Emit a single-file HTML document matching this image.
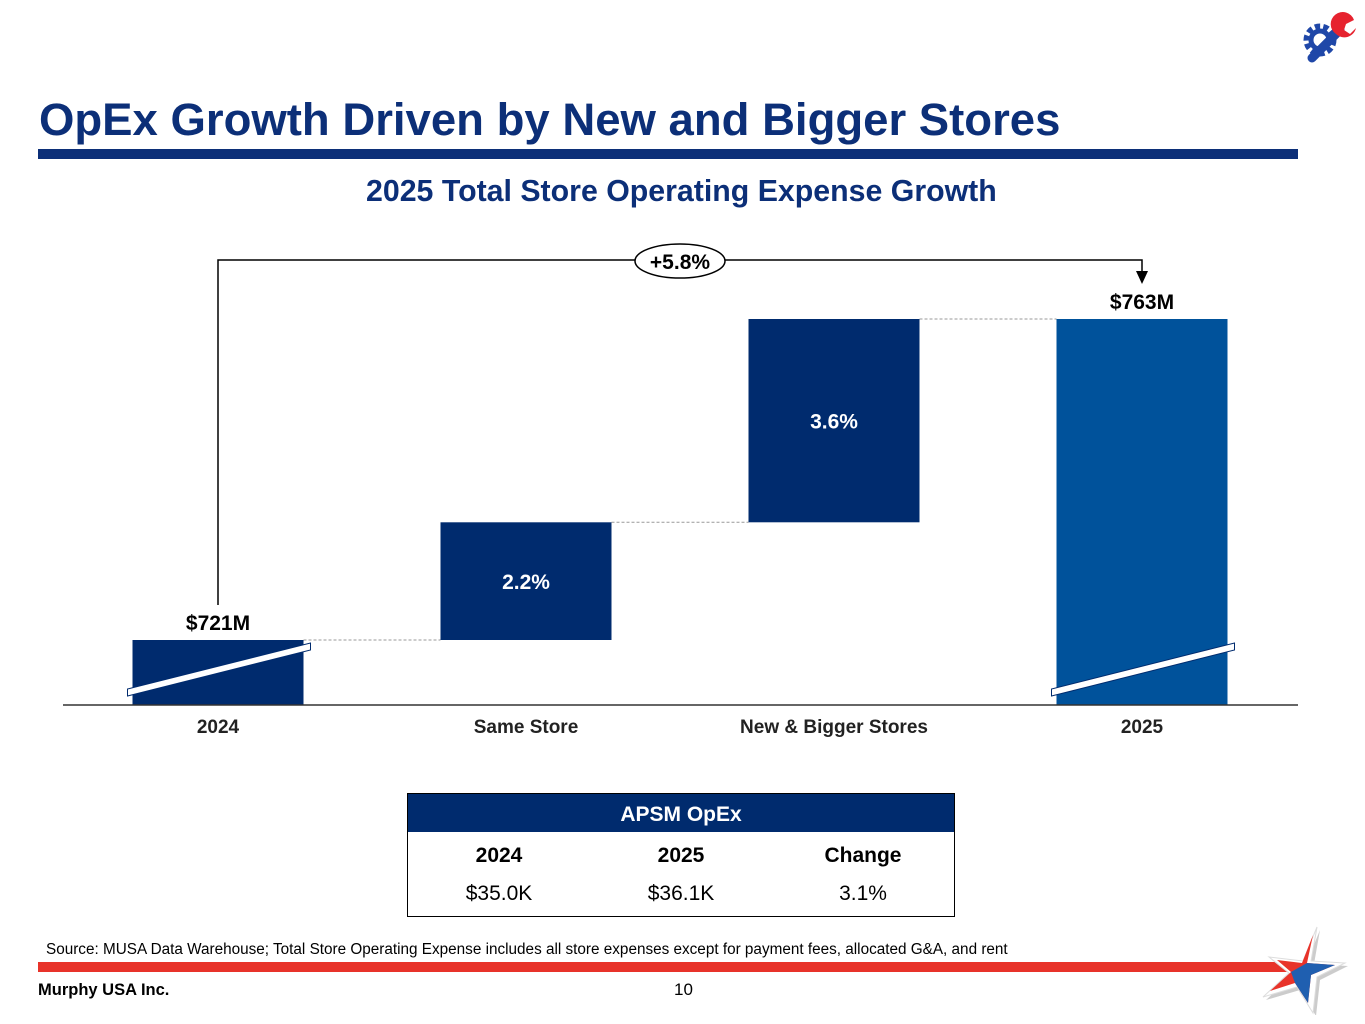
<!DOCTYPE html>
<html><head><meta charset="utf-8"><style>
body{margin:0;width:1365px;height:1024px;background:#fff;position:relative;overflow:hidden;font-family:"Liberation Sans",Arial,sans-serif}
.a{position:absolute}
</style></head><body>
<div class="a" style="left:39px;top:94px;font-size:45.5px;font-weight:bold;color:#0c2f78;white-space:nowrap">OpEx Growth Driven by New and Bigger Stores</div>
<div class="a" style="left:38px;top:149px;width:1260px;height:10px;background:#0c2f78"></div>
<div class="a" style="left:366px;top:175px;font-size:30.3px;font-weight:bold;color:#0c2f78;white-space:nowrap">2025 Total Store Operating Expense Growth</div>

<svg class="a" style="left:0;top:0" width="1365" height="1024" id="chart"></svg>

<svg class="a" style="left:1298px;top:10px" width="62" height="58" viewBox="0 0 62 58">
<circle cx="22" cy="30" r="13" fill="none" stroke="#1f47a8" stroke-width="7" stroke-dasharray="5 3"/>
<circle cx="22" cy="30" r="9" fill="none" stroke="#1f47a8" stroke-width="5"/>
<line x1="14" y1="48" x2="42" y2="20" stroke="#1f47a8" stroke-width="9" stroke-linecap="round"/>
<path d="M38 24 A12 12 0 1 1 56 10 L48 14 L46 20 L52 24 L58 18 A12 12 0 0 1 38 24Z" fill="#e6232f"/>
</svg>

<div class="a" style="left:407px;top:793px;width:546px;height:122px;border:1px solid #000">
<div style="height:38px;background:#002b6e;color:#fff;font-size:21px;font-weight:bold;text-align:center;line-height:42px">APSM OpEx</div>
<div style="display:flex;height:42px;line-height:48px;font-size:21px;font-weight:bold;text-align:center">
<div style="flex:1">2024</div><div style="flex:1">2025</div><div style="flex:1">Change</div></div>
<div style="display:flex;height:40px;line-height:40px;font-size:21px;text-align:center">
<div style="flex:1">$35.0K</div><div style="flex:1">$36.1K</div><div style="flex:1">3.1%</div></div>
</div>

<div class="a" style="left:46px;top:941px;font-size:15.3px;color:#000;white-space:nowrap">Source: MUSA Data Warehouse; Total Store Operating Expense includes all store expenses except for payment fees, allocated G&amp;A, and rent</div>
<div class="a" style="left:38px;top:962px;width:1250px;height:10px;background:#e8332a"></div>
<div class="a" style="left:38px;top:981px;font-size:16.5px;font-weight:bold">Murphy USA Inc.</div>
<div class="a" style="left:674px;top:980px;font-size:17px">10</div>
<svg class="a" style="left:1255px;top:925px" width="105" height="90" viewBox="0 0 105 90">
<polygon points="62,2 56,36 90,38 62,52 58,88 42,62 8,72 34,48 14,32 48,36" fill="#ccc" transform="translate(3,3)"/>
<polygon points="62,2 56,36 90,38 62,52 58,88 42,62 8,72 34,48 14,32 48,36" fill="#fff" stroke="#ddd"/>
<polygon points="58,10 52,38 80,40 56,50 53,78 40,58 15,66 36,47 22,35 47,38" fill="#e8332a"/>
<polygon points="52,38 80,40 56,50 53,78 40,58 36,47" fill="#1f5fb0"/>
</svg>

<script>
const categories=["2024","Same Store","New & Bigger Stores","2025"];
const starts=[null,721,736.4,null];
const ends=[721,736.4,763,763];
const labels=["$721M","2.2%","3.6%","$763M"];
const kinds=["total","step","step","total"];
const NS="http://www.w3.org/2000/svg";
const svg=document.getElementById('chart');
const base=705, vRef=721, yRef=640, k=321/42;
function y(v){return yRef-(v-vRef)*k;}
function xc(i){return 218+i*308;}
const bw=171;
function mk(t,a){const e=document.createElementNS(NS,t);for(const n in a)e.setAttribute(n,a[n]);svg.appendChild(e);return e;}
categories.forEach((c,i)=>{
  const x=xc(i)-bw/2;
  let top,bot;
  if(kinds[i]==="total"){top=y(ends[i]);bot=base;}else{top=y(ends[i]);bot=y(starts[i]);}
  const r=mk('rect',{x:x,y:top,width:bw,height:bot-top,fill:i===3?'#00529b':'#002b6e'});
  
  
  if(kinds[i]==="total"){
    const bl=mk('polygon',{points:`${x-5},${base-9} ${x+bw+7},${base-55} ${x+bw+7},${base-62} ${x-5},${base-16}`,fill:'#fff',stroke:'#002b6e','stroke-width':1});
    
    
    const t=mk('text',{x:xc(i),y:top-10,'text-anchor':'middle','font-size':21,'font-weight':'bold',fill:'#000'});
    t.textContent=labels[i];
    
    
  } else {
    const t=mk('text',{x:xc(i),y:(top+bot)/2+8,'text-anchor':'middle','font-size':21,'font-weight':'bold',fill:'#fff'});
    t.textContent=labels[i];
    
    
  }
  if(i<3){
    const cn=mk('line',{x1:x+bw,x2:xc(i+1)-bw/2,y1:y(ends[i]),y2:y(ends[i]),stroke:'#999','stroke-dasharray':'3 2','stroke-width':1});
    
    
  }
  const tl=mk('text',{x:xc(i),y:733,'text-anchor':'middle','font-size':19,'font-weight':'bold',fill:'#222'});
  tl.textContent=c;
  
  
});
const ax=mk('line',{x1:63,x2:1298,y1:base,y2:base,stroke:'#333','stroke-width':1.5});


const br=mk('polyline',{points:`${xc(0)},605 ${xc(0)},260 ${xc(3)},260 ${xc(3)},273`,fill:'none',stroke:'#000','stroke-width':1.5});


mk('polygon',{points:`${xc(3)-6},271 ${xc(3)+6},271 ${xc(3)},284`,fill:'#000'});
const ov=mk('ellipse',{cx:680,cy:261,rx:45,ry:17,fill:'#fff',stroke:'#000','stroke-width':1.5});


const gt=mk('text',{x:680,y:269,'text-anchor':'middle','font-size':21,'font-weight':'bold'});
gt.textContent='+5.8%';


</script>
</body></html>
